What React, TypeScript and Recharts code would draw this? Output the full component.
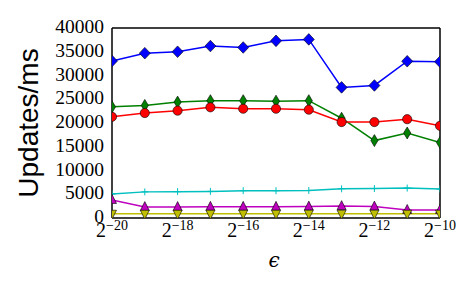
import React from 'react';
import { LineChart, Line, XAxis, YAxis } from 'recharts';

const exponents = [-20, -19, -18, -17, -16, -15, -14, -13, -12, -11, -10];
const blueDiamond = [33050, 34700, 35000, 36200, 35900, 37300, 37600, 27500, 27900, 33000, 32900];
const greenThinDiamond = [23400, 23700, 24400, 24700, 24700, 24600, 24700, 21000, 16300, 17900, 15900];
const redCircle = [21300, 22100, 22600, 23300, 23000, 23000, 22800, 20200, 20200, 20800, 19400];
const cyanPlus = [5050, 5500, 5550, 5600, 5750, 5750, 5800, 6150, 6200, 6300, 6100];
const magentaTriUp = [3800, 2300, 2300, 2350, 2350, 2350, 2400, 2500, 2400, 1700, 1700];
const yellowTriDown = [900, 900, 900, 900, 900, 900, 900, 900, 900, 900, 900];
const yTicks = [0, 5000, 10000, 15000, 20000, 25000, 30000, 35000, 40000];

const data = exponents.map((e, i) => ({
  exp: e,
  b: blueDiamond[i],
  g: greenThinDiamond[i],
  r: redCircle[i],
  c: cyanPlus[i],
  m: magentaTriUp[i],
  y: yellowTriDown[i],
}));

const SERIF = '"Liberation Serif", "Times New Roman", serif';

const Diamond = (p: any) => {
  const { cx, cy, fill } = p;
  if (cx == null || cy == null) return null;
  return <path d={`M${cx},${cy - 5.8} L${cx + 5.5},${cy} L${cx},${cy + 5.8} L${cx - 5.5},${cy} Z`} fill={fill} stroke="#000" strokeWidth={0.6} />;
};
const ThinDiamond = (p: any) => {
  const { cx, cy, fill } = p;
  if (cx == null || cy == null) return null;
  return <path d={`M${cx},${cy - 6} L${cx + 3.6},${cy} L${cx},${cy + 6} L${cx - 3.6},${cy} Z`} fill={fill} stroke="#000" strokeWidth={0.6} />;
};
const Circle = (p: any) => {
  const { cx, cy, fill } = p;
  if (cx == null || cy == null) return null;
  return <circle cx={cx} cy={cy} r={4.6} fill={fill} stroke="#000" strokeWidth={0.6} />;
};
const Plus = (p: any) => {
  const { cx, cy, fill } = p;
  if (cx == null || cy == null) return null;
  return <path d={`M${cx - 3.5},${cy} L${cx + 3.5},${cy} M${cx},${cy - 3.5} L${cx},${cy + 3.5}`} stroke={fill} strokeWidth={1} fill="none" />;
};
const TriUp = (p: any) => {
  const { cx, cy, fill } = p;
  if (cx == null || cy == null) return null;
  return <path d={`M${cx},${cy - 5.5} L${cx + 4.5},${cy + 3.5} L${cx - 4.5},${cy + 3.5} Z`} fill={fill} stroke="#000" strokeWidth={0.6} />;
};
const TriDown = (p: any) => {
  const { cx, cy, fill } = p;
  if (cx == null || cy == null) return null;
  return <path d={`M${cx},${cy + 5.5} L${cx + 4.5},${cy - 3.5} L${cx - 4.5},${cy - 3.5} Z`} fill={fill} stroke="#000" strokeWidth={0.6} />;
};

const PowTick = (props: any) => {
  const { x, y, payload } = props;
  const v = payload.value;
  if (Math.abs(v) % 2 !== 0) return null;
  return (
    <text x={x} y={y + 19} textAnchor="middle" style={{ fontFamily: SERIF }} fill="#000">
      <tspan fontSize={20}>2</tspan>
      <tspan fontSize={14} dy={-7}>{'\u2212' + Math.abs(v)}</tspan>
    </text>
  );
};

const NumTick = (props: any) => {
  const { x, y, payload } = props;
  return (
    <text x={x} y={y + 5} textAnchor="end" style={{ fontFamily: SERIF, fontSize: 19.5 }} fill="#000">
      {String(payload.value)}
    </text>
  );
};

const YLabel = (props: any) => {
  const { viewBox } = props;
  const cx = viewBox.x + 26;
  const cy = viewBox.y + viewBox.height / 2;
  return (
    <text x={cx} y={cy} transform={`rotate(-90, ${cx}, ${cy})`} textAnchor="middle" style={{ fontFamily: '"Liberation Sans", Arial, sans-serif', fontSize: 28 }} fill="#000">
      Updates/ms
    </text>
  );
};

const XLabel = (props: any) => {
  const { viewBox } = props;
  const cx = viewBox.x + viewBox.width / 2 - 2;
  const cy = viewBox.y + 49;
  return (
    <text x={cx} y={cy} textAnchor="middle" style={{ fontFamily: '"DejaVu Serif", serif', fontStyle: 'italic', fontSize: 20 }} fill="#000">
      {'\u03F5'}
    </text>
  );
};

export default function App() {
  return (
    <div style={{ position: 'absolute', left: 0, top: 0 }}>
      <LineChart width={475} height={293} data={data} margin={{ top: 28, right: 35, bottom: 45, left: 12 }}>
        <XAxis
          dataKey="exp"
          type="number"
          domain={[-20, -10]}
          ticks={exponents}
          interval={0}
          allowDataOverflow
          tickLine={false}
          tickSize={0}
          tickMargin={0}
          height={30}
          axisLine={{ stroke: '#000', strokeWidth: 1.5 }}
          tick={<PowTick />}
          label={<XLabel />}
        />
        <XAxis xAxisId="bottomIn" orientation="bottom" mirror dataKey="exp" type="number" domain={[-20, -10]} ticks={exponents} interval={0} allowDataOverflow tick={false} tickSize={4} axisLine={false} tickLine={{ stroke: '#000' }} />
        <XAxis xAxisId="top" orientation="top" mirror dataKey="exp" type="number" domain={[-20, -10]} ticks={exponents} interval={0} allowDataOverflow tick={false} tickSize={4} axisLine={{ stroke: '#000', strokeWidth: 1.5 }} tickLine={{ stroke: '#000' }} />
        <YAxis
          type="number"
          domain={[0, 40000]}
          ticks={yTicks}
          interval={0}
          allowDataOverflow
          width={100}
          tickLine={false}
          tickSize={0}
          tickMargin={8}
          axisLine={{ stroke: '#000', strokeWidth: 1.5 }}
          tick={<NumTick />}
          label={<YLabel />}
        />
        <YAxis yAxisId="leftIn" orientation="left" mirror type="number" domain={[0, 40000]} ticks={yTicks} interval={0} allowDataOverflow tick={false} tickSize={4} axisLine={false} tickLine={{ stroke: '#000' }} />
        <YAxis yAxisId="right" orientation="right" mirror type="number" domain={[0, 40000]} ticks={yTicks} interval={0} allowDataOverflow tick={false} tickSize={4} axisLine={{ stroke: '#000', strokeWidth: 1.5 }} tickLine={{ stroke: '#000' }} />
        <Line dataKey="b" stroke="#0000ff" strokeWidth={1.5} fill="#0000ff" dot={<Diamond />} isAnimationActive={false} />
        <Line dataKey="g" stroke="#008000" strokeWidth={1.5} fill="#008000" dot={<ThinDiamond />} isAnimationActive={false} />
        <Line dataKey="r" stroke="#ff0000" strokeWidth={1.5} fill="#ff0000" dot={<Circle />} isAnimationActive={false} />
        <Line dataKey="c" stroke="#00bfbf" strokeWidth={1.5} fill="#00bfbf" dot={<Plus />} isAnimationActive={false} />
        <Line dataKey="m" stroke="#bf00bf" strokeWidth={1.5} fill="#bf00bf" dot={<TriUp />} isAnimationActive={false} />
        <Line dataKey="y" stroke="#bfbf00" strokeWidth={1.5} fill="#bfbf00" dot={<TriDown />} isAnimationActive={false} />
      </LineChart>
    </div>
  );
}
